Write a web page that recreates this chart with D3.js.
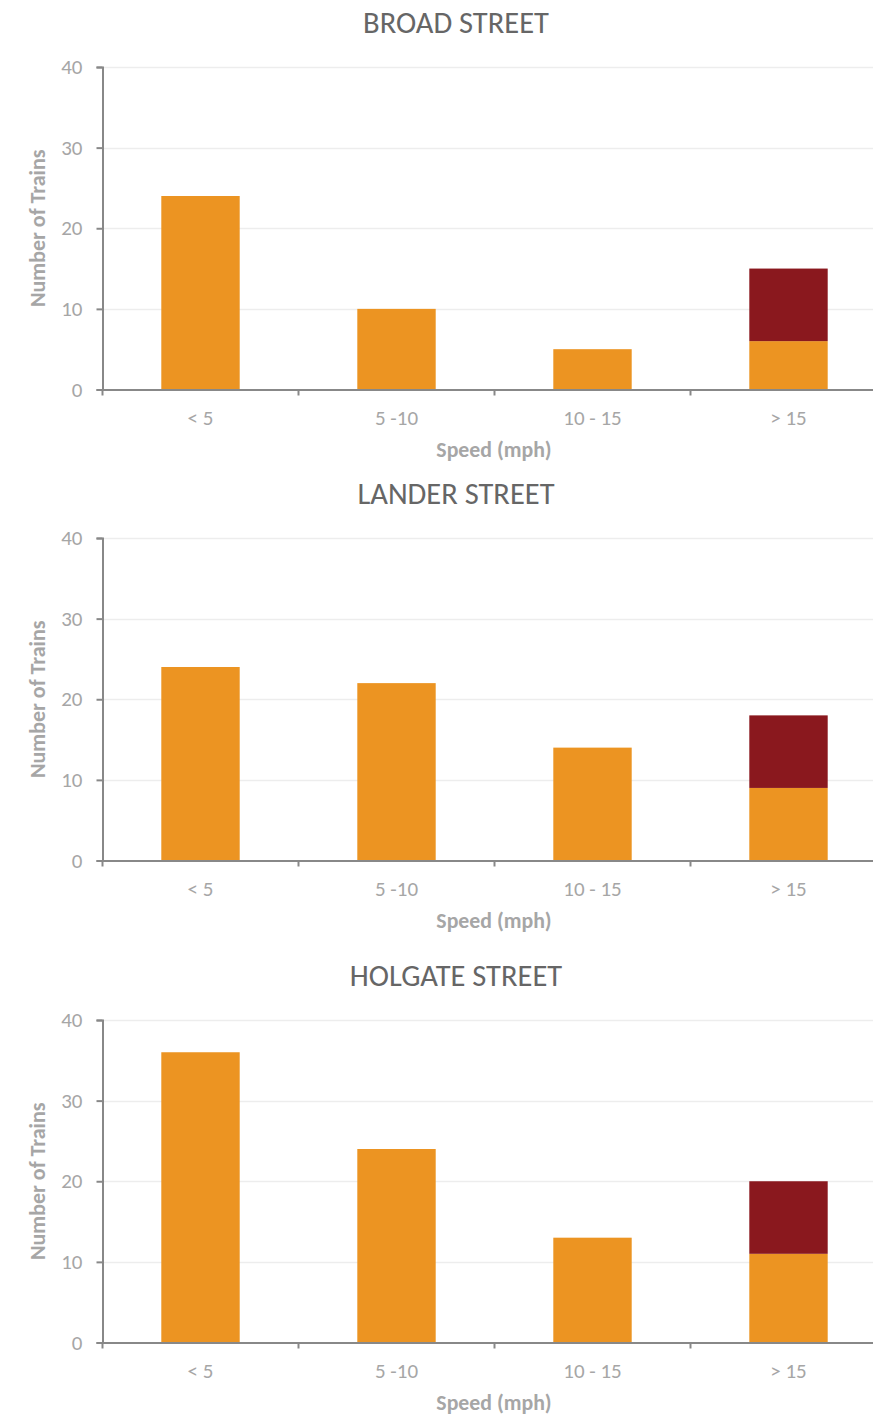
<!DOCTYPE html>
<html>
<head>
<meta charset="utf-8">
<script src="https://cdn.jsdelivr.net/npm/d3@7"></script>
<style>
  html, body { margin: 0; padding: 0; background: #fff; }
  svg { display: block; font-family: Carlito, Lato, "Open Sans", sans-serif; }
</style>
</head>
<body>
<svg id="chart" width="873" height="1415"></svg>
<script>
// Speed buckets shared by every panel
const speedBuckets = ["< 5", "5 -10", "10 - 15", "> 15"];
const yTicks = [0, 10, 20, 30, 40];

// Station names
const stations = ["BROAD STREET", "LANDER STREET", "HOLGATE STREET"];

// Trains per speed bucket (lower segment) per station
const broadLower   = [24, 10, 5, 6];
const landerLower  = [24, 22, 14, 9];
const holgateLower = [36, 24, 13, 11];

// Upper (dark) segment, only present in the fastest bucket
const broadUpper   = [0, 0, 0, 9];
const landerUpper  = [0, 0, 0, 9];
const holgateUpper = [0, 0, 0, 9];

const lowerSeries = [broadLower, landerLower, holgateLower];
const upperSeries = [broadUpper, landerUpper, holgateUpper];

const colorLower = "#EC9422";
const colorUpper = "#8A181E";
const textGray = "#A6A6A6";
const titleGray = "#666666";
const axisGray = "#888888";
const fontStack = "Carlito, Lato, 'Open Sans', sans-serif";

const svg = d3.select("#chart");

// Vertical layout of each panel: top of plot area
const panelTops = [67, 538, 1020];
const plotH = 322.5;
const left = 102.5;
const right = 886.5;

const x = d3.scaleBand()
  .domain(speedBuckets)
  .range([left, right])
  .paddingInner(0.6)
  .paddingOuter(0.3);

stations.forEach((name, i) => {
  const top = panelTops[i];
  const bottom = top + plotH;
  const y = d3.scaleLinear().domain([0, 40]).range([bottom, top]);
  const g = svg.append("g");

  // Title
  g.append("text")
    .attr("x", 456)
    .attr("y", top - 34)
    .attr("text-anchor", "middle")
    .attr("font-size", 30.5)
    .attr("fill", titleGray)
    .text(name);

  // Horizontal gridlines
  g.append("g")
    .selectAll("line")
    .data(yTicks.filter(t => t > 0))
    .join("line")
    .attr("x1", left)
    .attr("x2", right)
    .attr("y1", d => Math.round(y(d)) + 0.5)
    .attr("y2", d => Math.round(y(d)) + 0.5)
    .attr("stroke", "#EDEDED")
    .attr("stroke-width", 1.5);

  // Stacked data for this station
  const rows = speedBuckets.map((b, k) => ({
    bucket: b,
    lower: lowerSeries[i][k],
    upper: upperSeries[i][k]
  }));
  const stacked = d3.stack().keys(["lower", "upper"])(rows);
  const colors = { lower: colorLower, upper: colorUpper };

  g.append("g")
    .selectAll("g")
    .data(stacked)
    .join("g")
    .attr("fill", s => colors[s.key])
    .selectAll("rect")
    .data(s => s.filter(d => d[1] > d[0]))
    .join("rect")
    .attr("x", d => x(d.data.bucket))
    .attr("width", x.bandwidth())
    .attr("y", d => y(d[1]))
    .attr("height", d => y(d[0]) - y(d[1]));

  // Y axis
  const yAxis = g.append("g")
    .attr("transform", `translate(${left},0)`)
    .call(d3.axisLeft(y).tickValues(yTicks).tickSize(6).tickPadding(14));
  yAxis.attr("font-family", fontStack).attr("font-size", 21);
  yAxis.select(".domain").attr("stroke", axisGray).attr("stroke-width", 2);
  yAxis.selectAll(".tick line").attr("stroke", axisGray).attr("stroke-width", 2);
  yAxis.selectAll(".tick text")
    .attr("fill", textGray)
    .attr("font-size", 21);

  // X axis: labels centred in bands, ticks on band boundaries
  const xAxis = g.append("g")
    .attr("transform", `translate(0,${bottom})`)
    .call(d3.axisBottom(x).tickSize(0));
  xAxis.attr("font-family", fontStack).attr("font-size", 21);
  xAxis.select(".domain").attr("stroke", axisGray).attr("stroke-width", 2);
  xAxis.selectAll(".tick text")
    .attr("fill", textGray)
    .attr("font-size", 21)
    .attr("y", 35)
    .attr("dy", 0);

  const boundaries = d3.range(speedBuckets.length).map(k => left + k * x.step());
  xAxis.append("g")
    .selectAll("line")
    .data(boundaries)
    .join("line")
    .attr("x1", d => d)
    .attr("x2", d => d)
    .attr("y1", 0)
    .attr("y2", 6)
    .attr("stroke", axisGray)
    .attr("stroke-width", 2);

  // Axis titles
  g.append("text")
    .attr("x", 494)
    .attr("y", bottom + 67)
    .attr("text-anchor", "middle")
    .attr("font-size", 21.8)
    .attr("font-weight", "bold")
    .attr("fill", textGray)
    .text("Speed (mph)");

  g.append("text")
    .attr("transform", `translate(45,${(top + bottom) / 2}) rotate(-90)`)
    .attr("text-anchor", "middle")
    .attr("font-size", 22)
    .attr("font-weight", "bold")
    .attr("fill", textGray)
    .text("Number of Trains");
});
</script>
</body>
</html>
